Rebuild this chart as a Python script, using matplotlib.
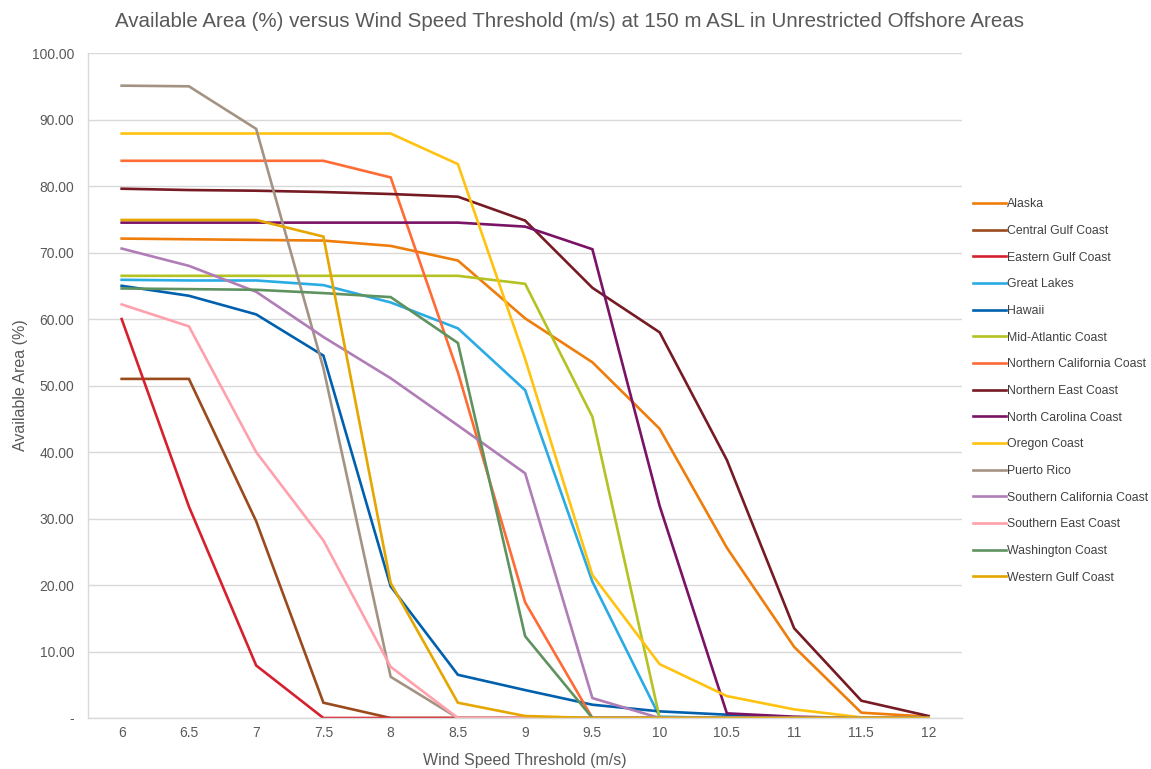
import matplotlib.pyplot as plt
from matplotlib.ticker import FuncFormatter

plt.rcParams['font.family'] = ['Liberation Sans', 'DejaVu Sans']

# wind speed thresholds (m/s) - category axis
thresholds = ["6", "6.5", "7", "7.5", "8", "8.5", "9", "9.5", "10", "10.5", "11", "11.5", "12"]

alaska = [72.1, 72.0, 71.9, 71.8, 71.0, 68.8, 60.1, 53.5, 43.5, 25.6, 10.7, 0.8, 0.2]
central_gulf = [51.0, 51.0, 29.6, 2.3, 0, 0, 0, 0, 0, 0, 0, 0, 0]
eastern_gulf = [60.0, 31.8, 7.9, 0, 0, 0, 0, 0, 0, 0, 0, 0, 0]
great_lakes = [65.9, 65.8, 65.8, 65.1, 62.5, 58.6, 49.3, 20.5, 0.2, 0, 0, 0, 0]
hawaii = [65.0, 63.5, 60.7, 54.5, 19.8, 6.5, 4.2, 2.0, 1.0, 0.5, 0.1, 0, 0]
mid_atlantic = [66.5, 66.5, 66.5, 66.5, 66.5, 66.5, 65.3, 45.3, 0, 0, 0, 0, 0]
northern_california = [83.8, 83.8, 83.8, 83.8, 81.3, 52.0, 17.4, 0, 0, 0, 0, 0, 0]
northern_east = [79.6, 79.4, 79.3, 79.1, 78.8, 78.4, 74.8, 64.7, 58.0, 38.8, 13.5, 2.6, 0.3]
north_carolina = [74.5, 74.5, 74.5, 74.5, 74.5, 74.5, 73.9, 70.5, 31.9, 0.7, 0.2, 0, 0]
oregon = [87.9, 87.9, 87.9, 87.9, 87.9, 83.3, 54.0, 21.5, 8.1, 3.3, 1.3, 0.1, 0]
puerto_rico = [95.1, 95.0, 88.6, 52.6, 6.2, 0, 0, 0, 0, 0, 0, 0, 0]
southern_california = [70.6, 68.0, 64.1, 57.3, 51.1, 44.0, 36.8, 3.0, 0, 0, 0, 0, 0]
southern_east = [62.2, 58.9, 40.0, 26.7, 7.7, 0, 0, 0, 0, 0, 0, 0, 0]
washington = [64.6, 64.5, 64.4, 63.9, 63.3, 56.4, 12.3, 0, 0, 0, 0, 0, 0]
western_gulf = [74.9, 74.9, 74.9, 72.4, 20.3, 2.3, 0.3, 0, 0, 0, 0, 0, 0]

series = [
    ("Alaska", alaska, "#EE7D0B"),
    ("Central Gulf Coast", central_gulf, "#9A4A1C"),
    ("Eastern Gulf Coast", eastern_gulf, "#D6202D"),
    ("Great Lakes", great_lakes, "#2AABE4"),
    ("Hawaii", hawaii, "#0060AE"),
    ("Mid-Atlantic Coast", mid_atlantic, "#B4C222"),
    ("Northern California Coast", northern_california, "#FF6A35"),
    ("Northern East Coast", northern_east, "#761A24"),
    ("North Carolina Coast", north_carolina, "#7A1266"),
    ("Oregon Coast", oregon, "#FFC30F"),
    ("Puerto Rico", puerto_rico, "#A49383"),
    ("Southern California Coast", southern_california, "#B07DB7"),
    ("Southern East Coast", southern_east, "#FFA1AD"),
    ("Washington Coast", washington, "#5E935F"),
    ("Western Gulf Coast", western_gulf, "#E5A600"),
]

fig = plt.figure(figsize=(11.51, 7.69), dpi=100)
ax = fig.add_axes([0.0765, 0.0663, 0.7595, 0.8647])

x = list(range(len(thresholds)))
for name, vals, color in series:
    ax.plot(x, vals, color=color, lw=1.9, label=name, solid_joinstyle='miter')

ax.set_xlim(-0.5, len(thresholds) - 0.5)
ax.set_ylim(0, 100)
ax.set_xticks(x)
ax.set_xticklabels(thresholds)
ax.set_yticks(range(0, 101, 10))
ax.yaxis.set_major_formatter(FuncFormatter(lambda v, p: "-" if v == 0 else f"{v:.2f}"))

ax.grid(axis='y', color='#D9D9D9', lw=1)
ax.set_axisbelow(True)
for s in ['top', 'right']:
    ax.spines[s].set_visible(False)
for s in ['left', 'bottom']:
    ax.spines[s].set_color('#D9D9D9')
    ax.spines[s].set_linewidth(1)
ax.tick_params(length=0, labelsize=10, colors='#595959')
ax.tick_params(axis='x', pad=6)
ax.tick_params(axis='y', pad=10)

ax.set_xlabel("Wind Speed Threshold (m/s)", fontsize=11.5, color='#595959', labelpad=9)
ax.set_ylabel("Available Area (%)", fontsize=11.5, color='#595959', labelpad=3)
fig.suptitle("Available Area (%) versus Wind Speed Threshold (m/s) at 150 m ASL in Unrestricted Offshore Areas",
             x=0.495, y=0.985, fontsize=14.8, color='#595959')

fig.legend(loc='center left', bbox_to_anchor=(0.836, 0.4915), frameon=False,
           fontsize=8.8, labelspacing=1.2, handlelength=2.65, handletextpad=0.15,
           labelcolor='#404040')

fig.savefig("out.png", dpi=100)
